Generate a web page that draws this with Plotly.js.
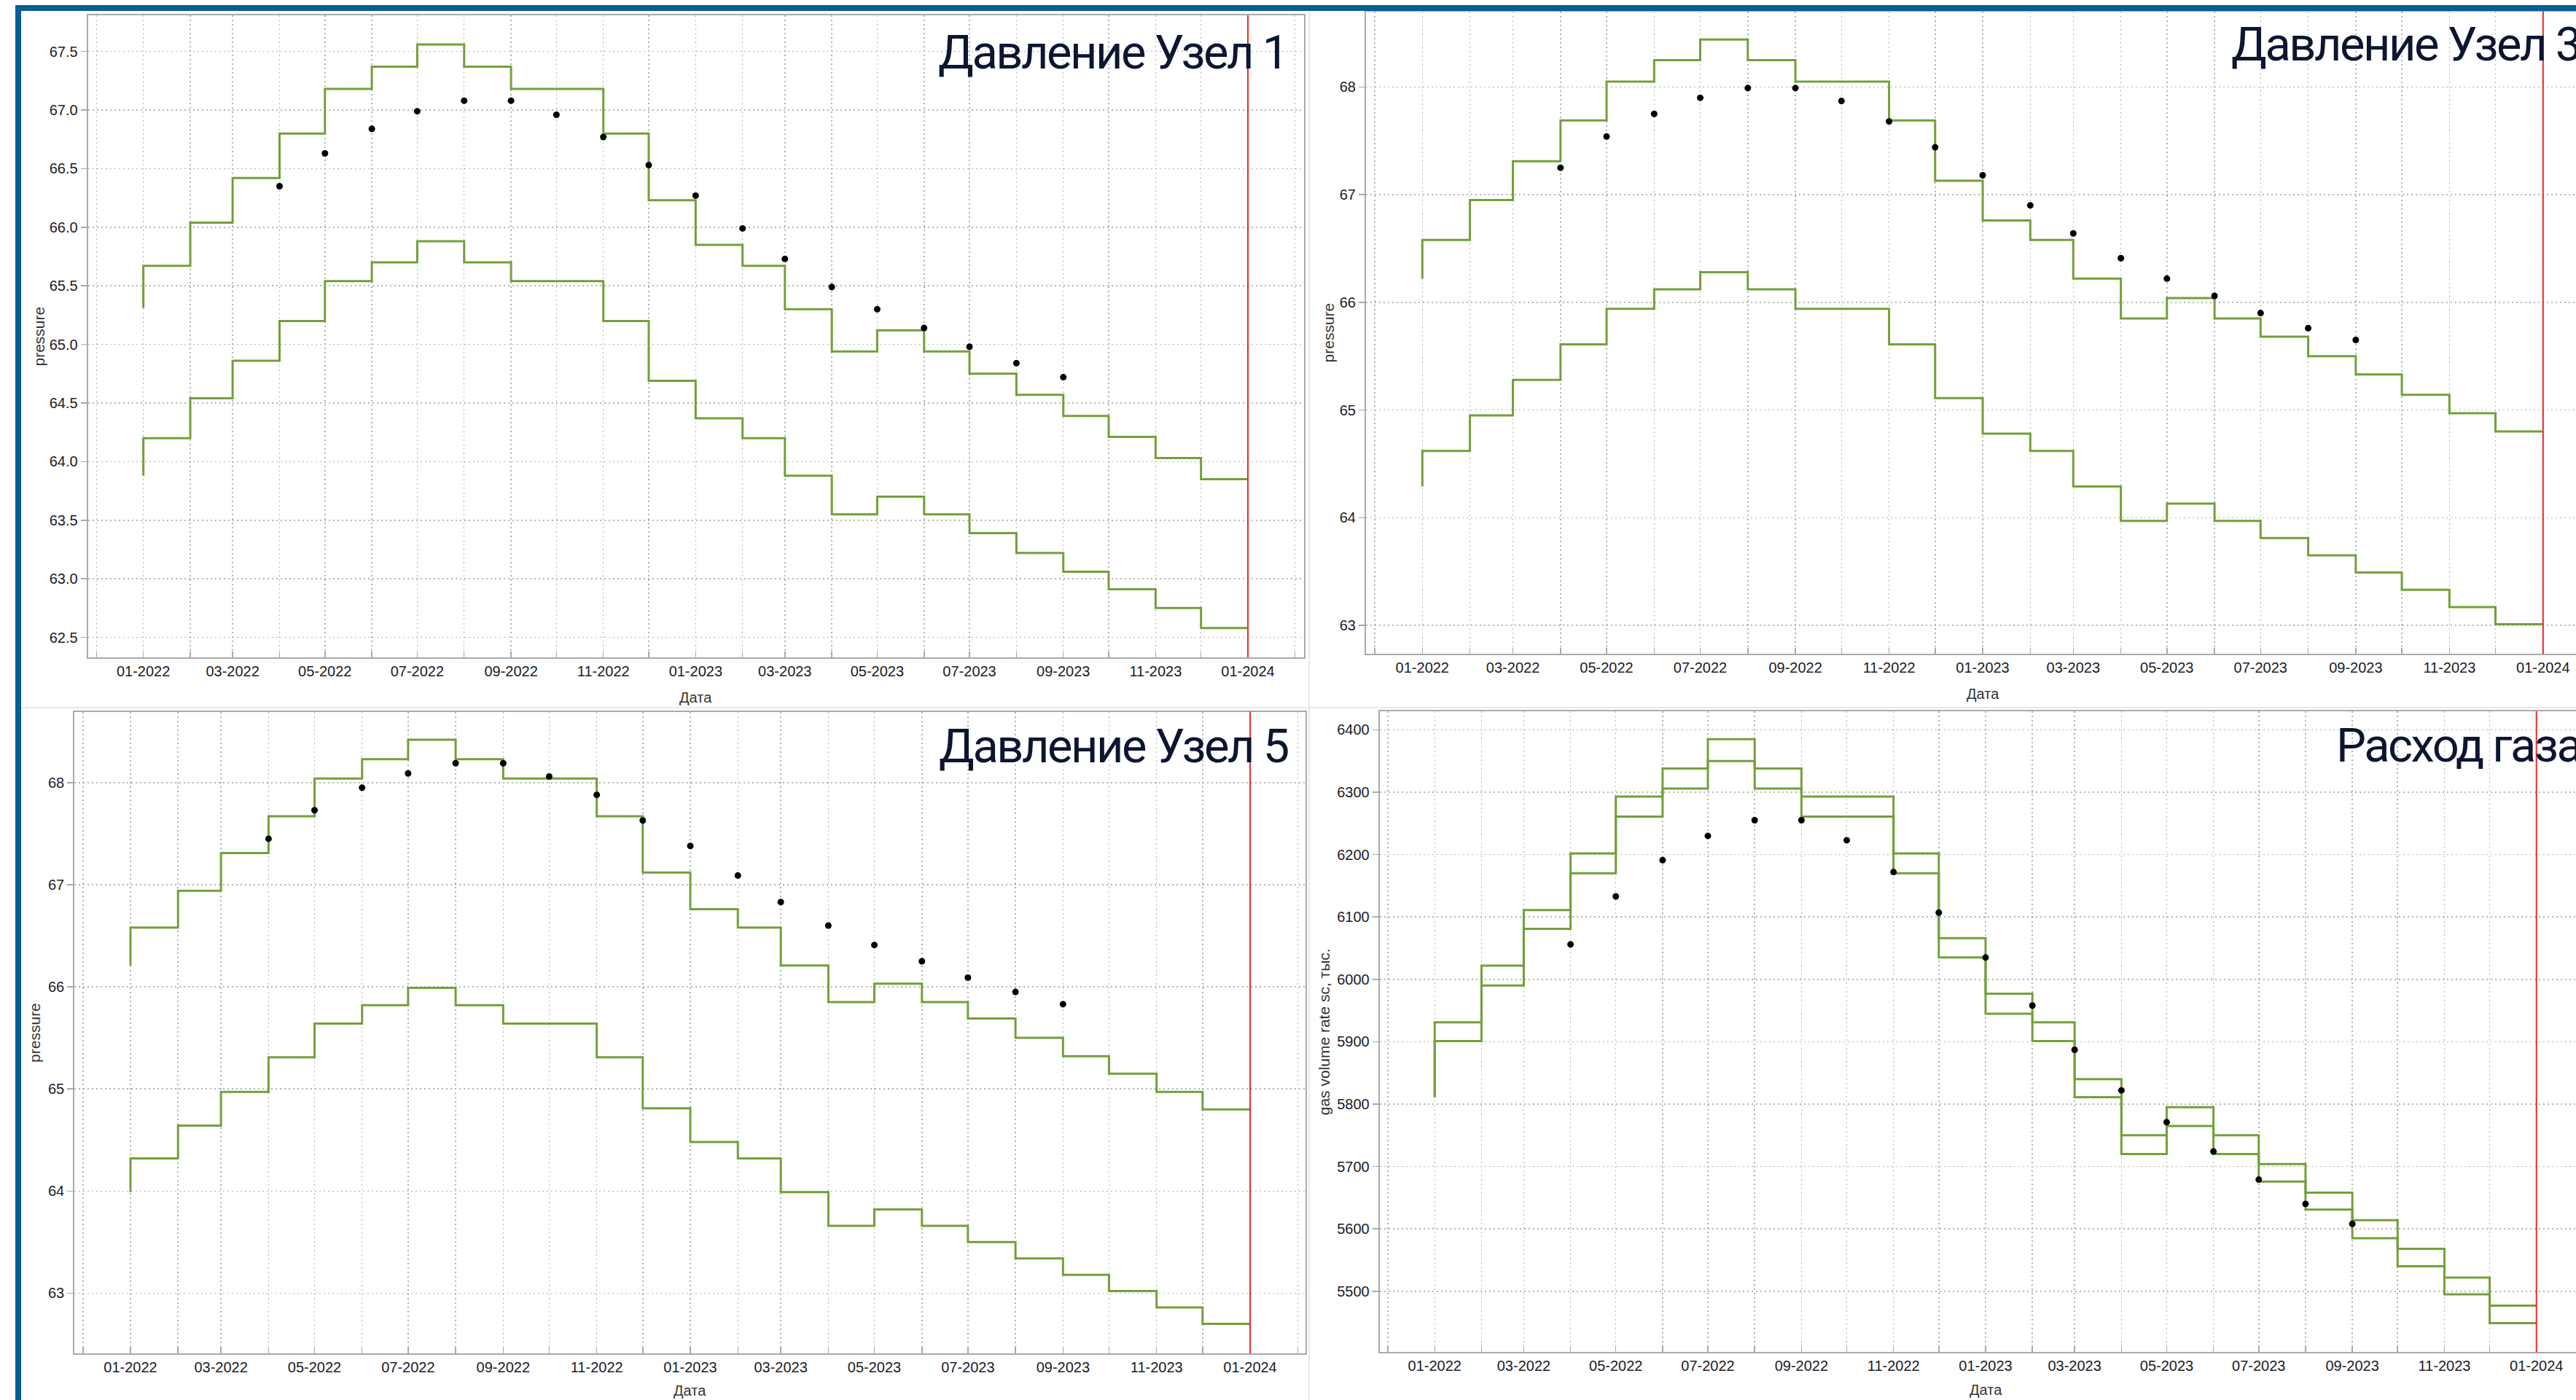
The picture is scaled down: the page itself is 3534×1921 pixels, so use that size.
<!DOCTYPE html>
<html>
<head>
<meta charset="utf-8">
<script src="https://cdn.plot.ly/plotly-3.0.1.min.js"></script>
<style>
html,body{margin:0;padding:0;overflow:hidden;background:#ffffff;}
#chart{width:3600px;height:1921px;}
text.annotation-text[style*="font-size: 65px"]{letter-spacing:-2.5px;}
</style>
</head>
<body>
<div id="chart"></div>
<script>
// ---------- data ----------
const stepDates = ['2022-01-01','2022-02-01','2022-03-01','2022-04-01','2022-05-01','2022-06-01','2022-07-01','2022-08-01','2022-09-01','2022-10-01','2022-11-01','2022-12-01',
  '2023-01-01','2023-02-01','2023-03-01','2023-04-01','2023-05-01','2023-06-01','2023-07-01','2023-08-01','2023-09-01','2023-10-01','2023-11-01','2023-12-01','2024-01-01'];
const pointDates = ['2022-04-01','2022-05-01','2022-06-01','2022-07-01','2022-08-01','2022-09-01','2022-10-01','2022-11-01','2022-12-01',
  '2023-01-01','2023-02-01','2023-03-01','2023-04-01','2023-05-01','2023-06-01','2023-07-01','2023-08-01','2023-09-01'];
const forecastEnd = '2024-01-01';

const panelTitles = ['Давление Узел 1','Давление Узел 3','Давление Узел 5','Расход газа'];
const yTitles = ['pressure','pressure','pressure','gas volume rate sc, тыс.'];
const xTitle = 'Дата';

const node1Upper = [65.31,65.67,66.04,66.42,66.80,67.18,67.37,67.56,67.37,67.18,67.18,66.80,66.23,65.85,65.67,65.30,64.94,65.12,64.94,64.75,64.57,64.39,64.21,64.03,63.85];
const node1Lower = [63.88,64.20,64.54,64.86,65.20,65.54,65.70,65.88,65.70,65.54,65.54,65.20,64.69,64.37,64.20,63.88,63.55,63.70,63.55,63.39,63.22,63.06,62.91,62.75,62.58];
const node1Points = [66.35,66.63,66.84,66.99,67.08,67.08,66.96,66.77,66.53,66.27,65.99,65.73,65.49,65.30,65.14,64.98,64.84,64.72];

const node3Upper = [66.22,66.58,66.95,67.31,67.69,68.05,68.25,68.44,68.25,68.05,68.05,67.69,67.13,66.76,66.58,66.22,65.85,66.04,65.85,65.68,65.50,65.33,65.14,64.97,64.80];
const node3Lower = [64.29,64.62,64.95,65.28,65.61,65.94,66.12,66.28,66.12,65.94,65.94,65.61,65.11,64.78,64.62,64.29,63.97,64.13,63.97,63.81,63.65,63.49,63.33,63.17,63.01];
const node3Points = [67.25,67.54,67.75,67.90,67.99,67.99,67.87,67.68,67.44,67.18,66.90,66.64,66.41,66.22,66.06,65.90,65.76,65.65];

const node5Upper = [66.21,66.58,66.94,67.31,67.67,68.04,68.23,68.42,68.23,68.04,68.04,67.67,67.12,66.76,66.58,66.21,65.85,66.03,65.85,65.69,65.50,65.32,65.15,64.97,64.80];
const node5Lower = [63.99,64.32,64.64,64.97,65.31,65.64,65.82,65.99,65.82,65.64,65.64,65.31,64.81,64.48,64.32,63.99,63.66,63.82,63.66,63.50,63.34,63.18,63.02,62.86,62.70];
const node5Points = [67.45,67.73,67.95,68.09,68.19,68.19,68.06,67.88,67.63,67.38,67.09,66.83,66.60,66.41,66.25,66.09,65.95,65.83];

const gasUpper = [5811,5931,6022,6111,6202,6293,6338,6385,6338,6293,6293,6202,6066,5977,5931,5840,5750,5795,5750,5704,5658,5614,5568,5522,5477];
const gasLower = [5811,5901,5990,6081,6170,6261,6306,6350,6306,6261,6261,6170,6035,5945,5901,5811,5720,5765,5720,5676,5631,5585,5540,5495,5449];
const gasPoints = [6056,6133,6191,6230,6255,6255,6223,6172,6107,6035,5958,5887,5822,5771,5724,5679,5640,5608];

// ---------- layout geometry (pixels) ----------
const W = 3600, H = 1921;
const px = x => x / W;
const py = y => 1 - y / H;
const DAY = 864e5;
const t0 = Date.UTC(2022,0,1), t1 = Date.UTC(2024,0,1);

const panels = [
  {upper: node1Upper, lower: node1Lower, pts: node1Points, L:120.7, R:1789, T:21.3, B:901.7, padL:36.6, padR:37.1, yr:[62.331,67.807], dtick:0.5, fmt:'.1f',
   title:{x:1285, y:71.7}, ytitle:{x:53}, xtitle:{y:957}},
  {upper: node3Upper, lower: node3Lower, pts: node3Points, L:1874, R:3566, T:15.5, B:897.3, padL:36.7, padR:36.65, yr:[62.734,68.703], dtick:1, fmt:'d',
   title:{x:3059, y:61}, ytitle:{x:1822}, xtitle:{y:952}},
  {upper: node5Upper, lower: node5Lower, pts: node5Points, L:102.2, R:1790.8, T:976.5, B:1857.3, padL:36.5, padR:36.0, yr:[62.408,68.695], dtick:1, fmt:'d',
   title:{x:1286, y:1024.3}, ytitle:{x:48}, xtitle:{y:1908}},
  {upper: gasUpper, lower: gasLower, pts: gasPoints, L:1892.7, R:3555.3, T:976, B:1855.4, padL:36.5, padR:36.5, yr:[5402.3,6429.7], dtick:100, fmt:'d',
   title:{x:3202.5, y:1022.8}, ytitle:{x:1816.6}, xtitle:{y:1907}}
];

const green = '#72a03a';
const gridColor = '#b3b3b3';
const axisColor = '#a9a9a9';
const tickFont = {family:'Liberation Sans, Arial, sans-serif', size:20, color:'#1c1c28'};

const data = [];
const layout = {
  width: W, height: H,
  margin: {l:0, r:0, t:0, b:0},
  paper_bgcolor: '#ffffff', plot_bgcolor: '#ffffff',
  showlegend: false,
  shapes: [], annotations: []
};

panels.forEach((p, i) => {
  const n = i === 0 ? '' : String(i + 1);
  const xa = 'x' + n, ya = 'y' + n;
  data.push({x: stepDates, y: p.upper, xaxis: xa, yaxis: ya, type:'scatter', mode:'lines',
             line:{shape:'vh', color: green, width:3}, hoverinfo:'skip'});
  data.push({x: stepDates, y: p.lower, xaxis: xa, yaxis: ya, type:'scatter', mode:'lines',
             line:{shape:'vh', color: green, width:3}, hoverinfo:'skip'});
  data.push({x: pointDates, y: p.pts, xaxis: xa, yaxis: ya, type:'scatter', mode:'markers',
             marker:{color:'#000000', size:9}, hoverinfo:'skip'});

  layout['xaxis' + n] = {
    type:'date', anchor: ya,
    domain:[px(p.L), px(p.R)],
    range:[t0 - p.padL * DAY, t1 + p.padR * DAY],
    tick0:'2022-01-01', dtick:'M2', tickformat:'%m-%Y',
    ticks:'inside', ticklen:8, tickcolor: axisColor, tickwidth:1.5,
    showgrid:true, gridcolor: gridColor, gridwidth:1.5, griddash:'2px,4px',
    minor:{tick0:'2022-01-01', dtick:'M1', ticks:'inside', ticklen:8, tickcolor: axisColor, tickwidth:1.5,
           showgrid:true, gridcolor: gridColor, gridwidth:1.5, griddash:'2px,4px'},
    showline:true, mirror:true, linecolor: axisColor, linewidth:2,
    zeroline:false, tickfont: tickFont, ticklabelstandoff: 0
  };
  layout['yaxis' + n] = {
    anchor: xa,
    domain:[py(p.B), py(p.T)],
    range: p.yr,
    dtick: p.dtick, tickformat: p.fmt,
    ticks:'outside', ticklen:8, tickcolor: axisColor, tickwidth:1.5,
    showgrid:true, gridcolor: gridColor, gridwidth:1.5, griddash:'2px,4px',
    showline:true, mirror:true, linecolor: axisColor, linewidth:2,
    zeroline:false, tickfont: tickFont
  };

  layout.shapes.push({type:'line', xref: xa, yref: ya + ' domain', x0: forecastEnd, x1: forecastEnd, y0:0, y1:1,
                      line:{color:'#f02828', width:2}});

  layout.annotations.push({text: panelTitles[i], xref:'paper', yref:'paper', x: px(p.title.x), y: py(p.title.y),
    xanchor:'left', yanchor:'middle', showarrow:false,
    font:{family:'Roboto, Open Sans, sans-serif', size:65, color:'#0c1630'}});
  layout.annotations.push({text: yTitles[i], xref:'paper', yref:'paper', x: px(p.ytitle.x), y: py((p.T + p.B) / 2),
    xanchor:'center', yanchor:'middle', textangle:-90, showarrow:false,
    font:{family:'Liberation Sans, Arial, sans-serif', size:21, color:'#333333'}});
  layout.annotations.push({text: xTitle, xref:'paper', yref:'paper', x: px((p.L + p.R) / 2), y: py(p.xtitle.y),
    xanchor:'center', yanchor:'middle', showarrow:false,
    font:{family:'Liberation Sans, Arial, sans-serif', size:20, color:'#333333'}});
});

// window frame and panel separators
const frameBlue = '#055e96';
layout.shapes.push({type:'rect', xref:'paper', yref:'paper', x0:px(21), x1:1, y0:py(15), y1:py(7), fillcolor:frameBlue, line:{width:0}, layer:'above'});
layout.shapes.push({type:'rect', xref:'paper', yref:'paper', x0:px(21), x1:px(29), y0:0, y1:py(7), fillcolor:frameBlue, line:{width:0}, layer:'above'});
layout.shapes.push({type:'line', xref:'paper', yref:'paper', x0:px(1796), x1:px(1796), y0:0, y1:py(15), line:{color:'#e8e8e8', width:2}, layer:'below'});
layout.shapes.push({type:'line', xref:'paper', yref:'paper', x0:px(29), x1:1, y0:py(971), y1:py(971), line:{color:'#e8e8e8', width:2}, layer:'below'});

Plotly.newPlot('chart', data, layout, {staticPlot:true, displayModeBar:false});
</script>
</body>
</html>
